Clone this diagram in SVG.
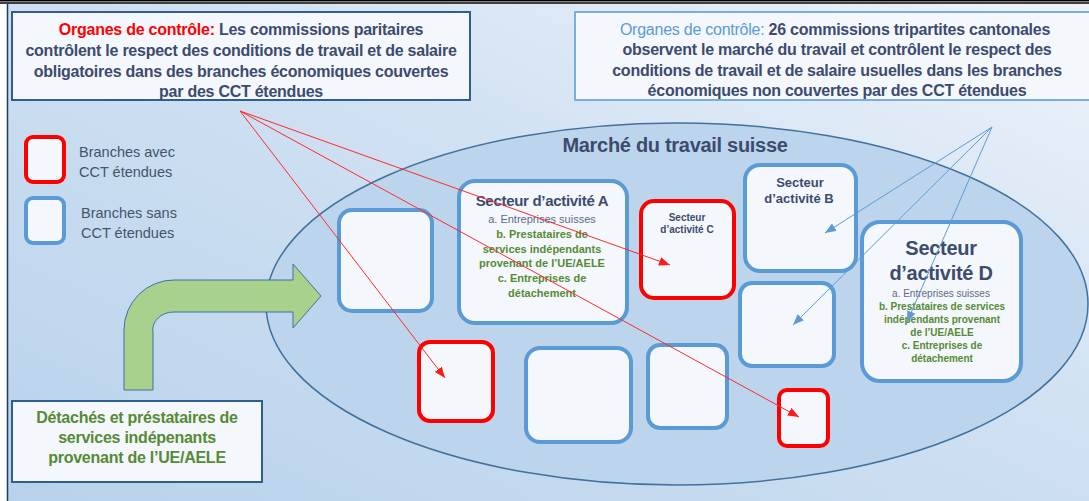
<svg xmlns="http://www.w3.org/2000/svg" width="1089" height="501" viewBox="0 0 1089 501">
<defs>
<linearGradient id="bg" x1="0" y1="1" x2="1" y2="0">
<stop offset="0" stop-color="#b8d2eb"/>
<stop offset="0.55" stop-color="#cfe0f2"/>
<stop offset="1" stop-color="#eef3fa"/>
</linearGradient>
<marker id="ar" viewBox="0 0 10 8" refX="10" refY="4" markerWidth="11" markerHeight="9" markerUnits="userSpaceOnUse" orient="auto"><path d="M0,0 L10,4 L0,8 Z" fill="#ff1a1a"/></marker>
<marker id="ab" viewBox="0 0 10 8" refX="10" refY="4" markerWidth="11" markerHeight="9" markerUnits="userSpaceOnUse" orient="auto"><path d="M0,0 L10,4 L0,8 Z" fill="#5b9bd5"/></marker>
<style>
text{font-family:"Liberation Sans",Arial,sans-serif;text-anchor:middle}
.hd{font-size:16px;font-weight:bold;fill:#3d4b6e;letter-spacing:-0.25px}
.red{fill:#ff0000}
.lb{fill:#5b9bd5;font-weight:normal}
.gr{font-size:16px;font-weight:bold;fill:#568a35;letter-spacing:-0.25px}
.leg{font-size:14.5px;fill:#44546a;text-anchor:start}
.bx{fill:#f4f8fc;stroke:#5b9bd5;stroke-width:4}
.rb{fill:#f4f8fc;stroke:#ff0000;stroke-width:4}
.sec{font-weight:bold;fill:#3d4b6e}
.sa{fill:#5e6b88}
.sg{font-weight:bold;fill:#568a35}
.cr{stroke:#ff2a2a;stroke-width:1;fill:none;marker-end:url(#ar)}
.cb{stroke:#5b9bd5;stroke-width:1;fill:none;marker-end:url(#ab)}
</style>
</defs>
<rect x="0" y="0" width="1089" height="501" fill="#ffffff"/>
<rect x="7" y="4" width="1082" height="497" fill="url(#bg)"/>
<line x1="7.5" y1="4" x2="7.5" y2="501" stroke="#1f3a5a" stroke-width="1.5"/>
<line x1="0" y1="0.7" x2="1089" y2="0.7" stroke="#000" stroke-width="1.4"/>
<line x1="0" y1="3" x2="1089" y2="3" stroke="#000" stroke-width="1.4"/>

<g id="market">
<ellipse cx="677" cy="304" rx="411" ry="181" fill="#bcd5ed" stroke="#41719c" stroke-width="1.5"/>
<text x="675" y="152" style="font-size:20px;font-weight:bold;fill:#3d4b6e;letter-spacing:-0.3px">Marché du travail suisse</text>
</g>

<g id="box-top-left">
<rect x="12" y="12" width="458" height="88" fill="#f4f8fc" stroke="#2f5f8a" stroke-width="2"/>
<text class="hd" x="241" y="35"><tspan class="red">Organes de contrôle:</tspan> Les commissions paritaires</text>
<text class="hd" x="241" y="56">contrôlent le respect des conditions de travail et de salaire</text>
<text class="hd" x="241" y="77">obligatoires dans des branches économiques couvertes</text>
<text class="hd" x="241" y="97">par des CCT étendues</text>
</g>

<g id="box-top-right">
<rect x="575" y="12" width="520" height="88" fill="#f4f8fc" stroke="#7aaee0" stroke-width="2"/>
<text class="hd" x="835" y="35"><tspan class="lb">Organes de contrôle:</tspan> 26 commissions tripartites cantonales</text>
<text class="hd" x="837" y="55">observent le marché du travail et contrôlent le respect des</text>
<text class="hd" x="837" y="76">conditions de travail et de salaire usuelles dans les branches</text>
<text class="hd" x="837" y="96">économiques non couvertes par des CCT étendues</text>
</g>

<g id="legend-red">
<rect class="rb" x="26" y="137" width="38" height="45" rx="7"/>
<text class="leg" x="79" y="157">Branches avec</text>
<text class="leg" x="79" y="177">CCT étendues</text>
</g>
<g id="legend-blue">
<rect class="bx" x="26" y="198" width="38" height="45" rx="7"/>
<text class="leg" x="81" y="218">Branches sans</text>
<text class="leg" x="81" y="238">CCT étendues</text>
</g>

<g id="green-arrow">
<path d="M124,390 L124,330 A50,50 0 0 1 174,280 L293,280 L293,264 L321,296 L293,328 L293,312 L174,312 A21,18 0 0 0 153,333 L153,390 Z" fill="#a9d18e" stroke="#41719c" stroke-width="1"/>
</g>

<g id="box-bottom-left">
<rect x="12" y="401" width="250" height="81" fill="#f4f8fc" stroke="#2f5f8a" stroke-width="2"/>
<text class="gr" x="137" y="423">Détachés et préstataires de</text>
<text class="gr" x="137" y="443">services indépenants</text>
<text class="gr" x="137" y="463">provenant de l’UE/AELE</text>
</g>

<g id="branch-1"><rect class="bx" x="339" y="210" width="93" height="101" rx="13"/></g>

<g id="sector-a">
<rect class="bx" x="459" y="181" width="168" height="142" rx="16"/>
<text class="sec" x="542" y="206" style="font-size:15px;letter-spacing:-0.3px">Secteur d’activité A</text>
<text class="sa" x="542" y="223" style="font-size:11px">a. Entreprises suisses</text>
<text class="sg" x="542" y="238" style="font-size:11px">b. Prestataires de</text>
<text class="sg" x="542" y="253" style="font-size:11px">services indépendants</text>
<text class="sg" x="542" y="267" style="font-size:11px">provenant de l’UE/AELE</text>
<text class="sg" x="542" y="282" style="font-size:11px">c. Entreprises de</text>
<text class="sg" x="542" y="297" style="font-size:11px">détachement</text>
</g>

<g id="sector-c">
<rect class="rb" x="641" y="201" width="93" height="97" rx="13"/>
<text class="sec" x="687" y="221" style="font-size:10px">Secteur</text>
<text class="sec" x="687" y="233" style="font-size:10px">d’activité C</text>
</g>

<g id="sector-b">
<rect class="bx" x="745" y="165" width="111" height="106" rx="15"/>
<text class="sec" x="800" y="187" style="font-size:13px">Secteur</text>
<text class="sec" x="799" y="203" style="font-size:13px">d’activité B</text>
</g>

<g id="branch-2"><rect class="bx" x="740" y="283" width="94" height="83" rx="12"/></g>

<g id="sector-d">
<rect class="bx" x="862" y="222" width="159" height="159" rx="18"/>
<text class="sec" x="941" y="255" style="font-size:20px;letter-spacing:-0.3px">Secteur</text>
<text class="sec" x="941" y="280" style="font-size:20px;letter-spacing:-0.3px">d’activité D</text>
<text class="sa" x="941" y="297" style="font-size:10px">a. Entreprises suisses</text>
<text class="sg" x="942" y="310" style="font-size:10px">b. Prestataires de services</text>
<text class="sg" x="942" y="323" style="font-size:10px">indépendants provenant</text>
<text class="sg" x="942" y="336" style="font-size:10px">de l’UE/AELE</text>
<text class="sg" x="942" y="349" style="font-size:10px">c. Entreprises de</text>
<text class="sg" x="942" y="362" style="font-size:10px">détachement</text>
</g>

<g id="branch-3"><rect class="rb" x="419" y="342" width="74" height="79" rx="11"/></g>
<g id="branch-4"><rect class="bx" x="526" y="348" width="105" height="94" rx="14"/></g>
<g id="branch-5"><rect class="bx" x="648" y="345" width="79" height="83" rx="12"/></g>
<g id="branch-6"><rect class="rb" x="779" y="390" width="49" height="56" rx="8"/></g>

<g id="connectors">
<line class="cr" x1="240" y1="111" x2="670" y2="265"/>
<line class="cr" x1="240" y1="111" x2="445" y2="378"/>
<line class="cr" x1="240" y1="111" x2="799" y2="417"/>
<line class="cb" x1="992" y1="127" x2="825" y2="233"/>
<line class="cb" x1="992" y1="127" x2="793" y2="325"/>
<line class="cb" x1="992" y1="127" x2="907" y2="322"/>
</g>
</svg>
